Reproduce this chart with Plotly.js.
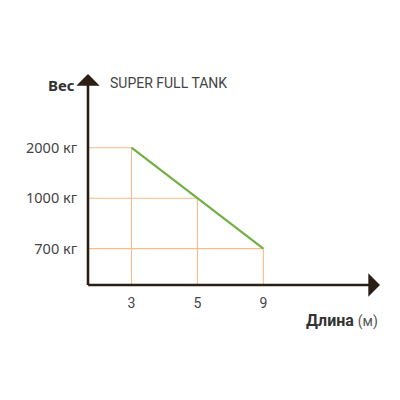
<!DOCTYPE html>
<html>
<head>
<meta charset="utf-8">
<script src="https://cdn.plot.ly/plotly-3.0.1.min.js"></script>
<style>
  html, body { margin: 0; padding: 0; background: #fff; }
  #chart { width: 400px; height: 400px; }
</style>
</head>
<body>
<div id="chart"></div>
<script>
// data
var lengths = ['3', '5', '9'];          // Длина, м
var weights = [2000, 1000, 700];        // Вес, кг
var weightLabels = weights.map(function (w) { return w + ' кг'; });

// the chart puts the values at evenly spaced slots, not on a true scale
var xPos = lengths.map(function (_, i) { return i; });
var yPos = weights.map(function (_, i) { return weights.length - 1 - i; });

var xRange = [-0.66, 3.77];
var yRange = [-0.72, 3.5];

var axisColor = '#2b1e14';
var dropColor = '#f8bb8c';
var lineColor = '#72b045';

var traces = [];
// drop lines from every point to both axes
xPos.forEach(function (x, i) {
  traces.push({
    x: [xRange[0], x, x], y: [yPos[i], yPos[i], yRange[0]],
    mode: 'lines', line: { color: dropColor, width: 1.1 },
    hoverinfo: 'skip', showlegend: false
  });
});
traces.push({
  x: xPos, y: yPos,
  mode: 'lines', line: { color: lineColor, width: 2.2 }, showlegend: false
});

var layout = {
  width: 400, height: 400,
  margin: { l: 88, r: 20, t: 72, b: 115 },
  paper_bgcolor: '#fff', plot_bgcolor: '#fff',
  showlegend: false,
  xaxis: {
    range: xRange, showgrid: false, zeroline: false, showline: false,
    tickmode: 'array', tickvals: xPos, ticktext: lengths,
    ticks: '', ticklabelstandoff: 8,
    tickfont: { family: 'Roboto, sans-serif', size: 14, color: '#444' }
  },
  yaxis: {
    range: yRange, showgrid: false, zeroline: false, showline: false,
    tickmode: 'array', tickvals: yPos, ticktext: weightLabels,
    ticks: '', ticklabelstandoff: 10,
    tickfont: { family: 'Noto Sans, sans-serif', size: 14.5, color: '#444' }
  },
  annotations: [
    { // x axis with arrow
      xref: 'x', yref: 'y', axref: 'x', ayref: 'y',
      x: xRange[1], y: yRange[0], ax: xRange[0] - 0.02, ay: yRange[0],
      text: '', showarrow: true, arrowhead: 1, arrowsize: 1.5, arrowwidth: 2.6, arrowcolor: axisColor
    },
    { // y axis with arrow
      xref: 'x', yref: 'y', axref: 'x', ayref: 'y',
      x: xRange[0], y: yRange[1] - 0.04, ax: xRange[0], ay: yRange[0] - 0.03,
      text: '', showarrow: true, arrowhead: 1, arrowsize: 1.5, arrowwidth: 2.6, arrowcolor: axisColor
    },
    {
      xref: 'paper', yref: 'paper', x: 0.068, y: 0.947, xanchor: 'left', yanchor: 'middle',
      text: 'SUPER FULL TANK', showarrow: false,
      font: { family: 'Roboto, sans-serif', size: 14, color: '#444' }
    },
    {
      xref: 'paper', yref: 'paper', x: -0.036, y: 0.938, xanchor: 'right', yanchor: 'middle',
      text: '<b>Вес</b>', showarrow: false,
      font: { family: 'Noto Sans, sans-serif', size: 15, color: '#333' }
    },
    {
      xref: 'paper', yref: 'paper', x: 1.0, y: -0.165, xanchor: 'right', yanchor: 'middle',
      text: '<b>Длина</b> <span style="font-size:14px;color:#555">(м)</span>', showarrow: false,
      font: { family: 'Roboto, sans-serif', size: 16, color: '#333' }
    }
  ]
};

Plotly.newPlot('chart', traces, layout, { displayModeBar: false, staticPlot: true });
</script>
</body>
</html>
